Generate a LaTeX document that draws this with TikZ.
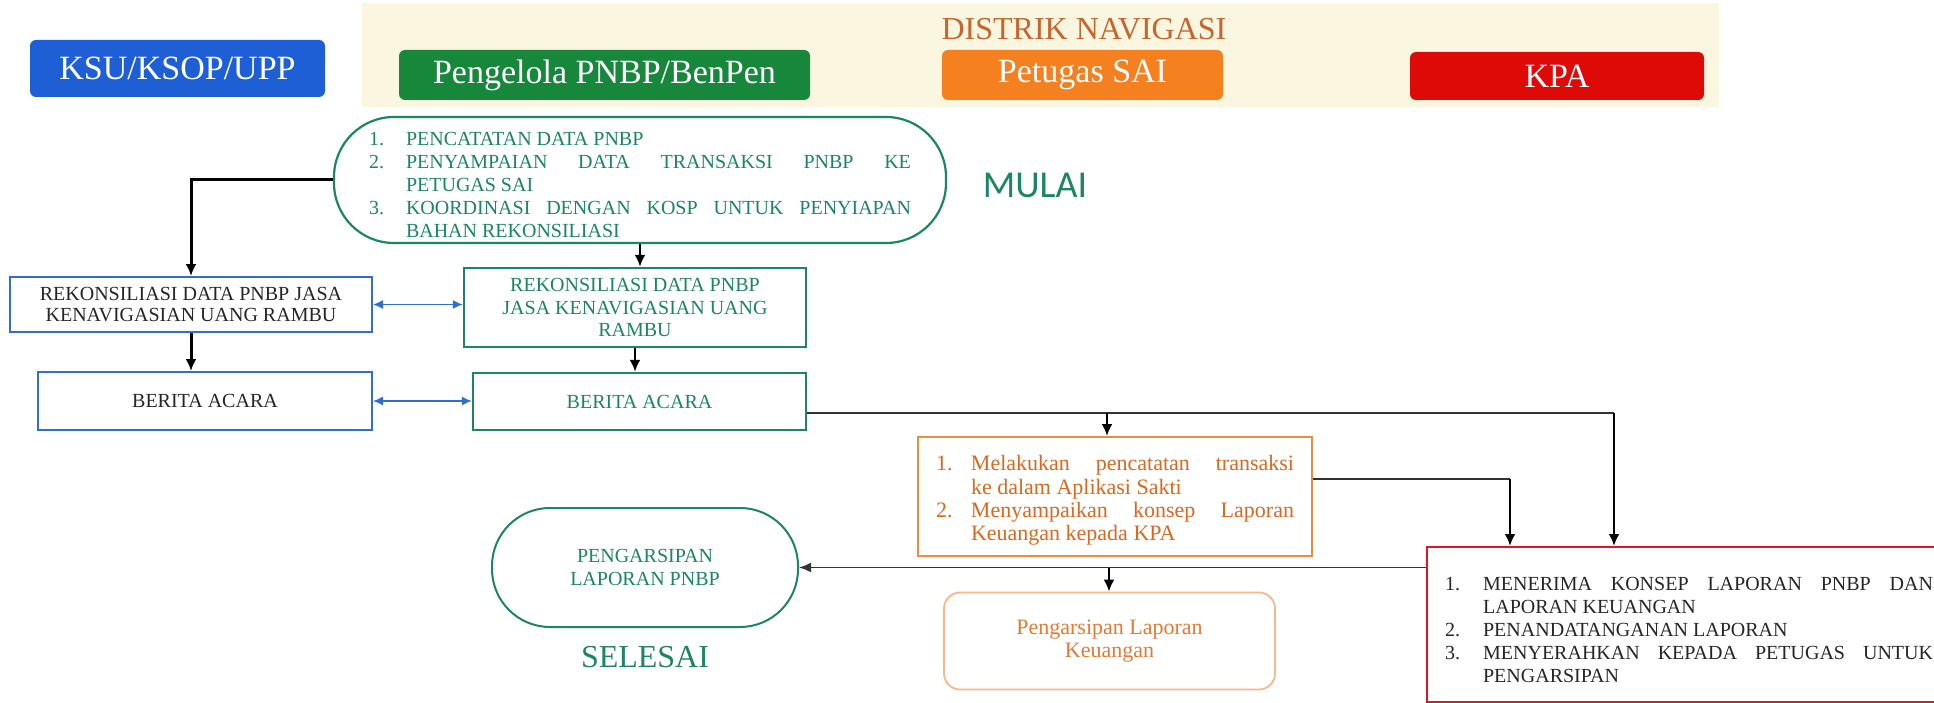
\documentclass[tikz,border=0pt]{standalone}
\usepackage{fontspec}
\setmainfont{Liberation Serif}
\newfontfamily\mulaifont{Carlito}
\usetikzlibrary{arrows.meta}
\definecolor{bandbg}{HTML}{FBF6E0}
\definecolor{hblue}{HTML}{1E5FD6}
\definecolor{hgreen}{HTML}{17873C}
\definecolor{horange}{HTML}{F4801F}
\definecolor{hred}{HTML}{DE0A08}
\definecolor{distrik}{HTML}{C8642E}
\definecolor{tgreen}{HTML}{1B8660}
\definecolor{bblue}{HTML}{2F6FD0}
\definecolor{oborder}{HTML}{F08A3C}
\definecolor{otext}{HTML}{D8691F}
\definecolor{lorange}{HTML}{F6B88C}
\definecolor{ltext}{HTML}{E27A36}
\definecolor{rborder}{HTML}{E0142A}
\definecolor{lgray}{HTML}{333333}
\hyphenpenalty=10000
\exhyphenpenalty=10000
\newcommand{\itm}[2]{\par\hangindent=#1\hangafter=1\noindent\makebox[#1][l]{#2}\ignorespaces}
\begin{document}
\begin{tikzpicture}[x=1pt,y=-1pt,
  hdr/.style={rounded corners=6pt, minimum height=50pt, inner sep=0pt, text=white, font=\fontsize{34}{40}\selectfont},
  txt/.style={font=\fontsize{20}{23}\selectfont},
  arr/.style={line width=2.6pt, draw=black, -{Latex[length=12pt,width=11pt]}},
  hline/.style={line width=1.6pt, draw=lgray},
  barr/.style={line width=1.4pt, draw=bblue, {Latex[length=10pt,width=9pt]}-{Latex[length=10pt,width=9pt]}},
  box/.style={draw, line width=2pt, inner sep=0pt, align=center},
]
\useasboundingbox (0,0) rectangle (1934,703);
\clip (0,0) rectangle (1934,703);
\fill[white] (0,0) rectangle (1934,703);
\fill[bandbg] (362,3) rectangle (1719,107);

% headers
\node[hdr, fill=hblue, minimum width=295pt, minimum height=57pt] (ksu) at (177.5,68.5) {KSU/KSOP/UPP};
\node[text=distrik, font=\fontsize{32}{36}\selectfont, inner sep=0pt] (dn) at (1084,29) {DISTRIK NAVIGASI};
\node[hdr, fill=hgreen, minimum width=411pt] (pbp) at (604.5,75) {Pengelola PNBP/BenPen};
\node[hdr, fill=horange, minimum width=281pt] (sai) at (1082.5,75) {Petugas SAI};
\node[hdr, fill=hred, minimum width=294pt, minimum height=48pt] (kpa) at (1557,76) {KPA};

% start
\node[box, draw=tgreen, line width=2.2pt, rounded corners=60pt, minimum width=612pt, minimum height=126pt,
      text=tgreen, text width=542pt, align=justify, txt] (start) at (640,180)
 {\itm{37pt}{1.}PENCATATAN DATA PNBP
  \itm{37pt}{2.}PENYAMPAIAN DATA TRANSAKSI PNBP KE\linebreak PETUGAS SAI
  \itm{37pt}{3.}KOORDINASI DENGAN KOSP UNTUK PENYIAPAN\linebreak BAHAN REKONSILIASI\par};
\node[font=\mulaifont\fontsize{38}{40}\selectfont, text=tgreen, inner sep=0pt] (mulai) at (1035,185.5) {MULAI};

% reconciliation
\node[box, draw=bblue, minimum width=362pt, minimum height=55pt, text=black!85,
      font=\fontsize{20}{21}\selectfont] (lrek) at (191,304.5) {REKONSILIASI DATA PNBP JASA\\KENAVIGASIAN UANG RAMBU};
\node[box, draw=tgreen, line width=2.4pt, minimum width=342pt, minimum height=79pt, text=tgreen,
      font=\fontsize{20}{22.5}\selectfont] (mrek) at (635,307.5) {REKONSILIASI DATA PNBP\\JASA KENAVIGASIAN UANG\\RAMBU};
\node[box, draw=bblue, minimum width=334pt, minimum height=58pt, text=black!85, txt] (lba) at (205,401) {BERITA ACARA};
\node[box, draw=tgreen, line width=2.4pt, minimum width=333pt, minimum height=57pt, text=tgreen, txt] (mba) at (639.5,401.5) {BERITA ACARA};

% petugas SAI
\node[box, draw=oborder, minimum width=394pt, minimum height=119pt, text=otext, text width=358pt, align=justify,
      font=\fontsize{22}{23.3}\selectfont] (orng) at (1115,496.5)
 {\itm{35pt}{1.}Melakukan pencatatan transaksi\linebreak ke dalam Aplikasi Sakti
  \itm{35pt}{2.}Menyampaikan konsep Laporan\linebreak Keuangan kepada KPA\par};
\node[box, draw=lorange, line width=1.8pt, rounded corners=16pt, minimum width=331pt, minimum height=97pt, text=ltext,
      font=\fontsize{22}{23}\selectfont] (arsip) at (1109.5,641) {Pengarsipan Laporan\\Keuangan};

% end
\node[box, draw=tgreen, rounded corners=58pt, minimum width=306pt, minimum height=119pt, text=tgreen,
      font=\fontsize{20}{23}\selectfont] (peng) at (645,567.5) {PENGARSIPAN\\LAPORAN PNBP};
\node[text=tgreen, font=\fontsize{32}{36}\selectfont, inner sep=0pt] (selesai) at (645,657) {SELESAI};

% KPA list
\node[draw=rborder, line width=2.2pt, anchor=north west, inner xsep=18pt, inner ysep=0pt, text width=488pt,
      minimum height=155pt, align=justify, text=black!85, txt] (kpal) at (1426,546)
 {\itm{38pt}{1.}MENERIMA KONSEP LAPORAN PNBP DAN\linebreak LAPORAN KEUANGAN
  \itm{38pt}{2.}PENANDATANGANAN LAPORAN
  \itm{38pt}{3.}MENYERAHKAN KEPADA PETUGAS UNTUK\linebreak PENGARSIPAN\par};

% connectors
\draw[arr, line width=3pt] (start.west) -| (lrek.north);
\draw[arr] (start.south) -- (start.south |- mrek.north);
\draw[barr] (lrek.east) -- (lrek.east -| mrek.west);
\draw[arr, line width=3pt] (lrek.south) -- (lrek.south |- lba.north);
\draw[arr] (mrek.south) -- (mrek.south |- mba.north);
\draw[barr] (lba.east) -- (lba.east -| mba.west);

\coordinate (j1) at (1614,413);
\coordinate (j2) at (1107,413);
\coordinate (j3) at (1510,479);
\coordinate (j4) at (1109,567.5);
\draw[hline] (mba.east |- j1) -- (j1);
\draw[arr] (j1) -- (j1 |- kpal.north);
\draw[arr] (j2) -- (j2 |- orng.north);
\draw[hline] (orng.east |- j3) -- (j3);
\draw[arr] (j3) -- (j3 |- kpal.north);
\draw[hline, -{Latex[length=12pt,width=10pt]}] (kpal.west |- peng.east) -- (peng.east);
\draw[arr] (j4) -- (j4 |- arsip.north);
\end{tikzpicture}
\end{document}
